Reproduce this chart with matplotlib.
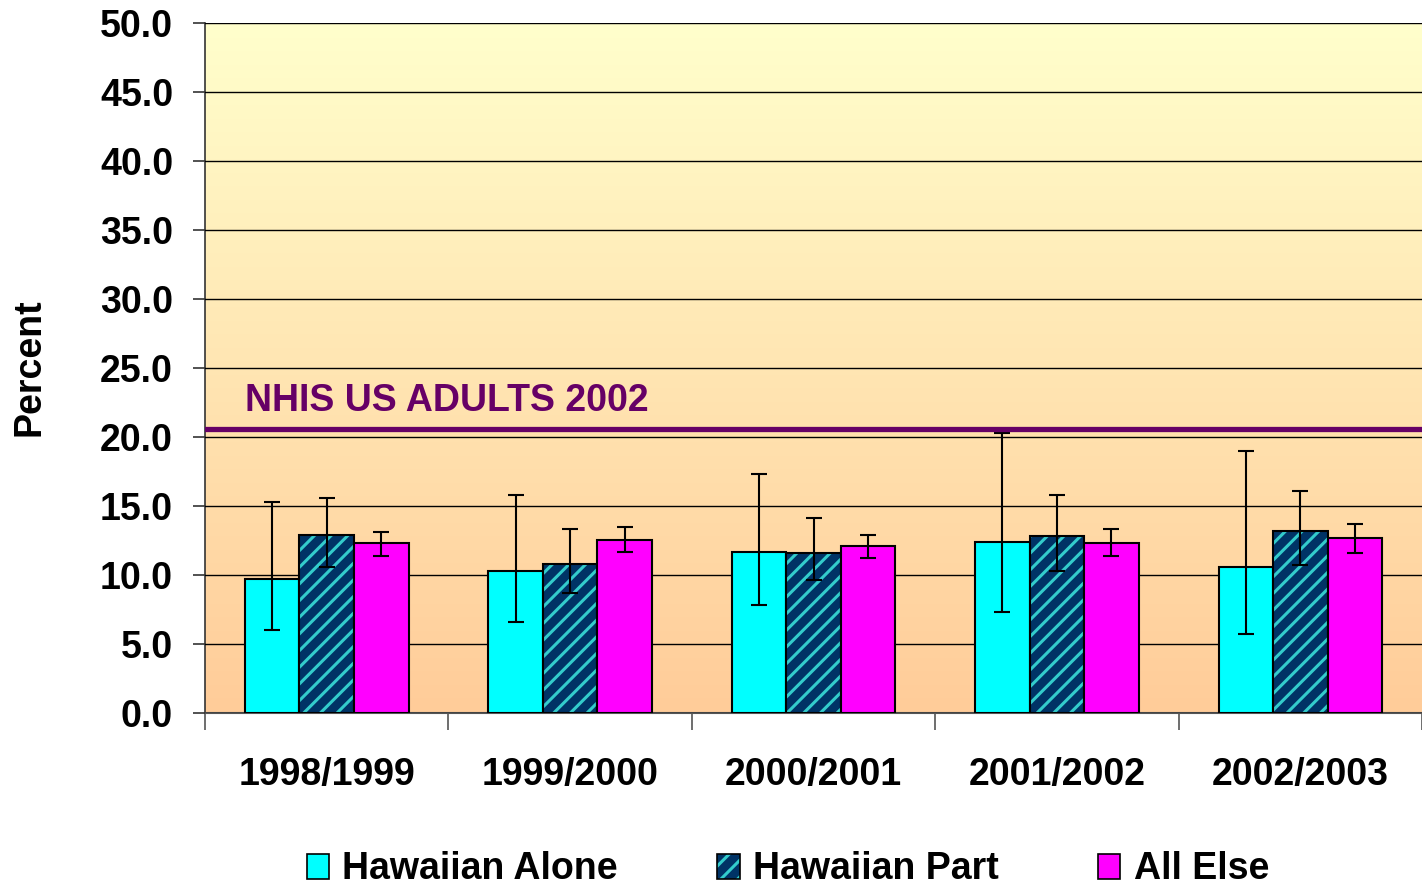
import numpy as np
import matplotlib
matplotlib.use('Agg')
import matplotlib.pyplot as plt
from matplotlib.patches import Patch
from matplotlib.legend_handler import HandlerTuple
from matplotlib.colors import LinearSegmentedColormap

plt.rcParams['font.family'] = ['Liberation Sans', 'DejaVu Sans']
plt.rcParams['font.weight'] = 'bold'
plt.rcParams['hatch.linewidth'] = 2.2

# data
years = ['1998/1999', '1999/2000', '2000/2001', '2001/2002', '2002/2003']
alone = [9.7, 10.3, 11.7, 12.4, 10.6]
alone_lo = [6.0, 6.6, 7.8, 7.3, 5.7]
alone_hi = [15.3, 15.8, 17.3, 20.3, 19.0]
part = [12.9, 10.8, 11.6, 12.8, 13.2]
part_lo = [10.6, 8.7, 9.6, 10.3, 10.7]
part_hi = [15.6, 13.3, 14.1, 15.8, 16.1]
other = [12.3, 12.5, 12.1, 12.3, 12.7]
other_lo = [11.4, 11.7, 11.25, 11.4, 11.6]
other_hi = [13.1, 13.5, 12.9, 13.3, 13.7]
nhis_value = 20.6
nhis_label = 'NHIS US ADULTS 2002'

fig = plt.figure(figsize=(14.22, 8.88), dpi=100)
ax = fig.add_axes([0.1442, 0.1971, 0.8558, 0.777])

# gradient background, light yellow at top to tan at bottom
grad = np.linspace(0, 1, 256).reshape(-1, 1)
cmap = LinearSegmentedColormap.from_list('bg', ['#FFFFCC', '#FFCC99'])
ax.imshow(grad, aspect='auto', cmap=cmap, origin='upper',
          extent=(-0.5, 4.5, 0, 50), zorder=0)

x = np.arange(len(years))
w = 0.224
fs = 27

def errs(vals, lo, hi):
    vals = np.array(vals)
    return [vals - np.array(lo), np.array(hi) - vals]

ax.bar(x - w, alone, w, color='#00FFFF', edgecolor='black', linewidth=1.5, zorder=3)
ax.bar(x, part, w, color='#003366', edgecolor='#33CCCC', hatch='//', linewidth=0, zorder=3)
ax.bar(x, part, w, fill=False, edgecolor='black', linewidth=1.5, zorder=3)
ax.bar(x + w, other, w, color='#FF00FF', edgecolor='black', linewidth=1.5, zorder=3)

for off, v, lo, hi in [(-w, alone, alone_lo, alone_hi), (0, part, part_lo, part_hi),
                       (w, other, other_lo, other_hi)]:
    ax.errorbar(x + off, v, yerr=errs(v, lo, hi), fmt='none', ecolor='black',
                elinewidth=1.5, capsize=6, capthick=1.5, zorder=4)

ax.axhline(nhis_value, color='#660066', linewidth=3.8, zorder=5)
ax.text(-0.336, 22.6, nhis_label, color='#660066', fontsize=fs, fontweight='bold',
        va='center', ha='left', zorder=5)

ax.set_xlim(-0.5, 4.5)
ax.set_ylim(0, 50)
ax.set_yticks(np.arange(0, 51, 5))
ax.set_yticklabels(['%.1f' % v for v in np.arange(0, 51, 5)])
ax.yaxis.grid(True, color='black', linewidth=1.0)
ax.set_axisbelow(False)
for gl in ax.get_ygridlines():
    gl.set_zorder(1)

ax.set_xticks(x)
ax.set_xticklabels(years)
ax.set_xticks(np.arange(-0.5, 5, 1), minor=True)
ax.tick_params(axis='x', which='major', length=0, pad=32, labelsize=fs)
ax.tick_params(axis='x', which='minor', length=12, width=1.2, color='#555555')
ax.tick_params(axis='y', length=9, width=1.2, pad=14, labelsize=fs, color='#333333')

ax.spines['top'].set_visible(False)
ax.spines['right'].set_visible(False)
ax.spines['left'].set_color('#333333')
ax.spines['left'].set_linewidth(1.2)
ax.spines['bottom'].set_color('#555555')
ax.spines['bottom'].set_linewidth(1.5)

fig.text(0.021, 0.587, 'Percent', rotation=90, fontsize=fs, fontweight='bold',
         ha='center', va='center')

h1 = Patch(facecolor='#00FFFF', edgecolor='black', linewidth=1.2)
h2a = Patch(facecolor='#003366', edgecolor='#33CCCC', hatch='//', linewidth=0)
h2b = Patch(fill=False, edgecolor='black', linewidth=1.2)
h3 = Patch(facecolor='#FF00FF', edgecolor='black', linewidth=1.2)
fig.legend([h1, (h2a, h2b), h3], ['Hawaiian Alone', 'Hawaiian Part', 'All Else'],
           handler_map={tuple: HandlerTuple(ndivide=1, pad=0)},
           loc='center', bbox_to_anchor=(0.554, 0.021), ncol=3, frameon=False,
           fontsize=fs, handlelength=0.6, handleheight=0.65, handletextpad=0.35,
           columnspacing=2.65, borderpad=0)

fig.savefig('out.png', dpi=100)
